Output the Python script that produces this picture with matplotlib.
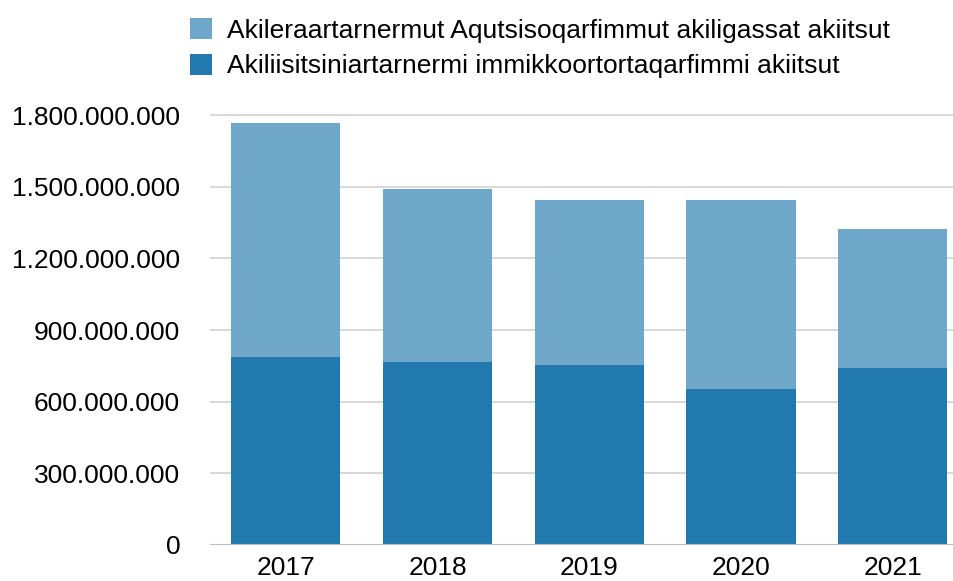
import matplotlib
matplotlib.use("Agg")
import matplotlib.pyplot as plt
from matplotlib.ticker import FuncFormatter

years = ["2017", "2018", "2019", "2020", "2021"]
immikkoortortaqarfimmi = [787e6, 766e6, 753e6, 653e6, 741e6]
aqutsisoqarfimmut = [979e6, 726e6, 691e6, 791e6, 582e6]
labels = [
    "Akileraartarnermut Aqutsisoqarfimmut akiligassat akiitsut",
    "Akiliisitsiniartarnermi immikkoortortaqarfimmi akiitsut",
]
yticks = [0, 300e6, 600e6, 900e6, 1200e6, 1500e6, 1800e6]

plt.rcParams["font.family"] = ["Liberation Sans", "DejaVu Sans"]

dark = "#2179ae"
light = "#6ea7ca"

fig = plt.figure(figsize=(9.54, 5.81), dpi=100)
ax = fig.add_axes([210 / 954, 36 / 581, 744 / 954, 0.7483])

x = list(range(len(years)))
b1 = ax.bar(x, immikkoortortaqarfimmi, width=0.72, color=dark, zorder=2)
b2 = ax.bar(x, aqutsisoqarfimmut, width=0.72, bottom=immikkoortortaqarfimmi,
            color=light, zorder=2)

ax.set_xlim(-0.5, 4.404)
ax.set_ylim(0, 1.82e9)
ax.set_yticks(yticks)
ax.yaxis.set_major_formatter(
    FuncFormatter(lambda v, p: f"{int(v):,}".replace(",", ".")))
ax.set_xticks(x)
ax.set_xticklabels(years)
ax.tick_params(axis="y", length=0, pad=21.5, labelsize=19)
ax.tick_params(axis="x", length=0, pad=8, labelsize=19)

# light gridlines behind the bars, darker baseline on top
for v in yticks[1:]:
    ax.axhline(v, color="#d9d9d9", lw=1.5, zorder=1)
ax.axhline(0, color="#bdbdbd", lw=1.5, zorder=3)

for s in ax.spines.values():
    s.set_visible(False)

fig.legend([b2, b1], labels, loc="upper left",
           bbox_to_anchor=(190 / 954, 1 - 18 / 581), frameon=False,
           fontsize=19, handlelength=0.85, handleheight=0.85,
           handletextpad=0.55, labelspacing=0.42, borderpad=0,
           borderaxespad=0)

fig.savefig("out.png", dpi=100)
